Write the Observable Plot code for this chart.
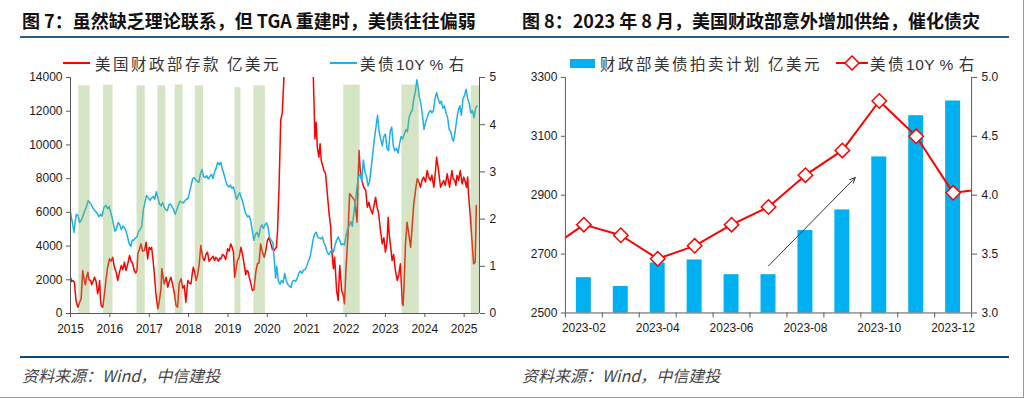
<!DOCTYPE html>
<html><head><meta charset="utf-8">
<script src="https://cdn.jsdelivr.net/npm/d3@7"></script>
<script src="https://cdn.jsdelivr.net/npm/@observablehq/plot@0.6"></script>
<style>
body{margin:0;background:#fff;}
#page{position:relative;width:1023px;height:397px;border-right:1px solid #9a9a9a;border-bottom:1px solid #9a9a9a;overflow:hidden;font-family:"Noto Sans CJK SC","Noto Sans",sans-serif;background:#fff;}
.title{position:absolute;top:9px;font-size:18px;font-weight:700;color:#111;white-space:nowrap;line-height:22px;}
.rule{position:absolute;left:20px;width:989px;height:2px;}
.leg{position:absolute;top:52px;font-size:15.5px;letter-spacing:2.5px;color:#333;white-space:nowrap;line-height:22px;}
.leg .lat{letter-spacing:0.5px;font-family:"Liberation Sans",Arial,sans-serif;}
.src{position:absolute;top:364px;font-size:16px;font-style:italic;color:#444;white-space:nowrap;line-height:22px;}
.chart{position:absolute;top:40px;}
.sw{position:absolute;}
</style></head>
<body><div id="page">
<div class="title" style="left:22px">图 7：虽然缺乏理论联系，但 TGA 重建时，美债往往偏弱</div>
<div class="title" style="left:522px">图 8：2023 年 8 月，美国财政部意外增加供给，催化债灾</div>
<div class="rule" style="top:36px;background:#2e5c8a"></div>
<div class="sw" style="left:63px;top:62px;width:27px;height:2px;background:#ff0000"></div>
<div class="leg" style="left:95px">美国财政部存款 亿美元</div>
<div class="sw" style="left:330px;top:62px;width:27px;height:2px;background:#1cb0ea"></div>
<div class="leg" style="left:360px">美债<span class="lat">10Y % </span>右</div>
<div class="sw" style="left:570px;top:59px;width:25px;height:9px;background:#00b0f0"></div>
<div class="leg" style="left:600px">财政部美债拍卖计划 亿美元</div>
<svg class="sw" style="left:836px;top:55px" width="32" height="16"><line x1="0" y1="8" x2="32" y2="8" stroke="#ff0000" stroke-width="2"/><polygon points="16,1 23,8 16,15 9,8" fill="#fff" stroke="#ff0000" stroke-width="1.5"/></svg>
<div class="leg" style="left:870px">美债<span class="lat">10Y % </span>右</div>
<div id="left" class="chart" style="left:0px"></div>
<div id="right" class="chart" style="left:512px"></div>
<div class="rule" style="top:356px;background:#0d4a7a"></div>
<div class="src" style="left:22px">资料来源：Wind，中信建投</div>
<div class="src" style="left:522px">资料来源：Wind，中信建投</div>
</div>
<script>
// ---------- Figure 7 data ----------
const yearTicks = [2015,2016,2017,2018,2019,2020,2021,2022,2023,2024,2025];
const leftTicks = [0,2000,4000,6000,8000,10000,12000,14000];
const rightTicks = [0,1,2,3,4,5];
const xEnd = 2025.39;

const tgaT = [2015.00,2015.03,2015.06,2015.10,2015.14,2015.17,2015.19,2015.23,2015.27,2015.31,2015.35,2015.38,2015.40,2015.44,2015.47,2015.51,2015.54,2015.57,2015.61,2015.65,2015.69,2015.72,2015.74,2015.76,2015.78,2015.82,2015.86,2015.90,2015.94,2015.99,
2016.03,2016.07,2016.11,2016.16,2016.20,2016.24,2016.29,2016.33,2016.37,2016.41,2016.45,2016.50,2016.54,2016.58,2016.62,2016.66,2016.69,2016.71,2016.75,2016.79,2016.83,2016.88,2016.92,2016.96,
2017.00,2017.03,2017.06,2017.10,2017.13,2017.17,2017.20,2017.22,2017.26,2017.30,2017.32,2017.35,2017.38,2017.43,2017.47,2017.51,2017.55,2017.59,2017.64,2017.68,2017.72,2017.76,2017.81,2017.85,2017.89,2017.93,2017.98,
2018.02,2018.06,2018.09,2018.12,2018.16,2018.19,2018.23,2018.27,2018.31,2018.36,2018.40,2018.44,2018.48,2018.52,2018.57,2018.62,2018.66,2018.69,2018.73,2018.76,2018.80,2018.82,2018.86,2018.90,2018.94,2018.99,
2019.03,2019.07,2019.11,2019.14,2019.17,2019.21,2019.24,2019.28,2019.33,2019.37,2019.41,2019.45,2019.48,2019.51,2019.54,2019.58,2019.62,2019.66,2019.68,2019.71,2019.75,2019.79,2019.83,2019.88,2019.92,2019.96,
2020.00,2020.04,2020.09,2020.13,2020.17,2020.23,2020.26,2020.30,2020.34,2020.38,2020.42,2020.47,2020.55,2020.70,2020.90,
2021.05,2021.16,2021.17,2021.21,2021.24,2021.27,2021.31,2021.34,2021.37,2021.44,2021.48,2021.51,2021.54,2021.57,2021.61,2021.63,2021.68,2021.71,2021.76,2021.80,2021.84,2021.89,2021.93,2021.96,
2022.00,2022.05,2022.09,2022.16,2022.22,2022.28,2022.30,2022.33,2022.36,2022.40,2022.45,2022.50,2022.54,2022.58,2022.62,2022.67,2022.71,2022.75,2022.79,2022.83,2022.87,2022.92,2022.96,
2023.00,2023.04,2023.07,2023.10,2023.14,2023.17,2023.21,2023.25,2023.30,2023.34,2023.38,2023.41,2023.43,2023.45,2023.48,2023.51,2023.55,2023.60,2023.64,2023.68,2023.72,2023.77,2023.81,2023.85,2023.89,2023.93,2023.97,
2024.02,2024.06,2024.10,2024.14,2024.18,2024.23,2024.27,2024.30,2024.35,2024.40,2024.44,2024.48,2024.52,2024.57,2024.60,2024.63,2024.66,2024.69,2024.72,2024.76,2024.79,2024.82,2024.86,2024.90,2024.95,2024.99,
2025.03,2025.06,2025.09,2025.11,2025.16,2025.21,2025.24,2025.28,2025.31];
const tgaV = [2150,1900,1960,1850,770,500,375,650,870,2550,1960,1700,2100,2450,2000,1960,1700,1900,2150,1900,1170,1500,1960,900,475,375,1100,1960,2700,3240,
3100,3340,2800,2450,1960,2400,2850,2600,3040,2550,2900,3440,3100,2950,2550,2400,2550,3540,3800,4130,3700,3740,4230,3240,
3930,3800,3930,3100,2350,1170,600,280,800,1500,2650,2200,1760,2150,1560,1900,2150,1760,1200,475,375,1760,2060,1500,1660,670,1960,
1800,1760,2300,2750,2400,1960,2300,2950,4030,3300,3140,3500,3640,3100,3240,3400,3150,3340,3250,3100,3300,3240,3500,3440,3200,3840,
3700,4130,3900,3640,2150,2700,3140,3300,3930,3500,2950,2300,2550,2500,2150,1800,1370,1400,1860,2500,2950,3000,4130,3600,3340,3700,
4330,4500,4130,3800,3740,3930,4920,7690,11450,11900,13920,16500,18000,17500,17000,
16500,15000,13900,10360,11350,9870,9270,10070,9080,8480,8290,7490,6700,5910,5120,3930,2650,3340,1370,770,2850,1370,1070,575,
2750,4730,7100,6900,6700,5420,7500,9670,8500,7900,7490,7300,6300,6600,6200,5910,6400,6900,6300,5910,5000,4130,4500,
3640,4200,5710,4600,3800,3140,3500,2600,1960,2300,2950,1500,575,475,2000,4130,5420,4600,3930,5200,6500,7400,8000,7800,7490,7900,8090,
7800,8480,8100,7890,8200,7490,8400,9270,8480,7490,7700,7890,7600,8290,7900,7490,8000,8480,8000,7890,7600,8190,7900,8480,7690,8090,
7800,7490,8100,7100,5710,3930,2950,3040,6400];

const ytmT = [2015.00,2015.03,2015.06,2015.09,2015.12,2015.15,2015.19,2015.23,2015.27,2015.31,2015.35,2015.40,2015.45,2015.48,2015.52,2015.56,2015.60,2015.64,2015.68,2015.72,2015.76,2015.80,2015.85,2015.90,2015.94,2015.98,
2016.02,2016.06,2016.10,2016.13,2016.17,2016.21,2016.25,2016.29,2016.33,2016.37,2016.41,2016.45,2016.49,2016.53,2016.57,2016.61,2016.65,2016.69,2016.73,2016.77,2016.81,2016.85,2016.89,2016.93,2016.97,
2017.02,2017.06,2017.10,2017.14,2017.18,2017.22,2017.26,2017.30,2017.34,2017.38,2017.42,2017.46,2017.50,2017.54,2017.58,2017.62,2017.66,2017.70,2017.74,2017.78,2017.82,2017.86,2017.90,2017.94,2017.98,
2018.02,2018.06,2018.10,2018.14,2018.18,2018.22,2018.26,2018.30,2018.34,2018.38,2018.42,2018.46,2018.50,2018.54,2018.58,2018.62,2018.66,2018.70,2018.74,2018.78,2018.82,2018.86,2018.90,2018.94,2018.98,
2019.02,2019.06,2019.10,2019.14,2019.18,2019.22,2019.26,2019.30,2019.34,2019.38,2019.42,2019.46,2019.50,2019.54,2019.58,2019.62,2019.66,2019.70,2019.74,2019.78,2019.82,2019.86,2019.90,2019.94,2019.98,
2020.02,2020.06,2020.10,2020.14,2020.18,2020.21,2020.24,2020.28,2020.32,2020.36,2020.40,2020.44,2020.48,2020.52,2020.56,2020.60,2020.64,2020.68,2020.72,2020.76,2020.80,2020.84,2020.88,2020.92,2020.96,
2021.00,2021.04,2021.08,2021.12,2021.16,2021.20,2021.24,2021.28,2021.32,2021.36,2021.40,2021.44,2021.48,2021.52,2021.56,2021.60,2021.64,2021.68,2021.72,2021.76,2021.80,2021.84,2021.88,2021.92,2021.96,
2022.00,2022.04,2022.08,2022.12,2022.16,2022.20,2022.24,2022.28,2022.32,2022.36,2022.40,2022.44,2022.48,2022.52,2022.56,2022.60,2022.64,2022.68,2022.72,2022.76,2022.80,2022.84,2022.88,2022.92,2022.96,
2023.00,2023.04,2023.08,2023.12,2023.16,2023.20,2023.24,2023.28,2023.32,2023.36,2023.40,2023.44,2023.48,2023.52,2023.56,2023.60,2023.64,2023.68,2023.72,2023.76,2023.80,2023.83,2023.86,2023.90,2023.94,2023.98,
2024.02,2024.06,2024.10,2024.14,2024.18,2024.22,2024.26,2024.30,2024.34,2024.38,2024.42,2024.46,2024.50,2024.54,2024.58,2024.62,2024.66,2024.70,2024.73,2024.77,2024.81,2024.85,2024.89,2024.93,2024.97,
2025.01,2025.05,2025.09,2025.13,2025.17,2025.21,2025.25,2025.29,2025.33];
const ytmV = [2.15,2.00,1.86,1.72,1.95,2.10,2.08,1.93,1.97,2.05,2.15,2.25,2.39,2.36,2.32,2.25,2.20,2.16,2.12,2.05,2.10,2.06,2.25,2.29,2.22,2.27,
2.15,2.02,1.85,1.74,1.80,1.93,1.88,1.78,1.85,1.82,1.75,1.62,1.48,1.42,1.56,1.55,1.60,1.62,1.74,1.78,1.85,2.20,2.35,2.50,2.46,
2.40,2.45,2.48,2.42,2.58,2.45,2.32,2.28,2.35,2.25,2.20,2.18,2.30,2.32,2.26,2.20,2.10,2.20,2.30,2.38,2.36,2.34,2.38,2.42,2.43,
2.55,2.70,2.85,2.88,2.84,2.80,2.78,2.96,3.05,2.90,2.88,2.92,2.85,2.90,2.95,2.86,3.00,3.08,3.20,3.15,3.20,3.05,2.95,2.82,2.72,
2.68,2.72,2.65,2.68,2.55,2.42,2.50,2.56,2.45,2.35,2.20,2.10,2.05,2.07,1.95,1.75,1.55,1.68,1.72,1.62,1.80,1.88,1.80,1.88,1.92,
1.82,1.60,1.55,1.50,1.10,0.75,1.00,0.68,0.62,0.70,0.65,0.85,0.70,0.62,0.58,0.55,0.68,0.70,0.68,0.75,0.85,0.90,0.85,0.92,0.93,
1.00,1.10,1.18,1.35,1.55,1.68,1.72,1.62,1.60,1.58,1.62,1.50,1.42,1.30,1.25,1.30,1.35,1.30,1.45,1.55,1.62,1.55,1.45,1.48,1.45,
1.65,1.80,1.85,1.95,1.85,2.15,2.40,2.70,2.90,2.95,2.80,3.25,3.00,2.90,2.70,2.80,3.10,3.40,3.70,3.95,4.20,3.85,3.70,3.55,3.75,
3.80,3.50,3.45,3.85,3.95,3.55,3.45,3.50,3.40,3.60,3.75,3.70,3.80,3.90,3.85,4.15,4.25,4.30,4.55,4.70,4.95,4.80,4.60,4.45,4.20,3.90,
4.05,4.15,4.25,4.30,4.25,4.30,4.55,4.68,4.55,4.45,4.50,4.35,4.40,4.25,4.15,3.90,3.85,3.70,3.65,3.85,4.10,4.30,4.40,4.20,4.55,
4.62,4.75,4.55,4.45,4.25,4.30,4.15,4.35,4.40];

const bandStart = [2015.21,2015.84,2016.69,2017.22,2017.66,2018.17,2019.18,2019.66,2021.94,2023.42,2025.18];
const bandEnd   = [2015.50,2016.08,2016.90,2017.42,2017.86,2018.38,2019.33,2019.95,2022.36,2023.86,2025.39];
const bandTop   = [13500,13550,13500,13500,13550,13500,13400,13500,13550,13550,13500];

// ---------- Figure 8 data ----------
const auctionMonths = ["2023-02","2023-03","2023-04","2023-05","2023-06","2023-07","2023-08","2023-09","2023-10","2023-11","2023-12"];
const auctionValues = [2620,2590,2670,2680,2630,2630,2780,2850,3030,3170,3220];
const yieldMonths = ["2023-01","2023-02","2023-03","2023-04","2023-05","2023-06","2023-07","2023-08","2023-09","2023-10","2023-11","2023-12","2024-01"];
const yieldValues = [3.53,3.75,3.66,3.46,3.57,3.75,3.90,4.17,4.38,4.80,4.50,4.02,4.06];
const labelMonths = ["2023-02","2023-04","2023-06","2023-08","2023-10","2023-12"];
const auctionTicks = [2500,2700,2900,3100,3300];
const yieldTicks = [3.0,3.5,4.0,4.5,5.0];
// trend arrow annotation: [month, value on left axis]
const arrowFrom = ["2023-07", 2660];
const arrowTo = ["2023-09", 2960];
const arrowToOffset = 0.35; // fraction of a month past arrowTo month

// ---------- colours ----------
const RED = "#ff0000", BLUE = "#1cb0ea", BAR = "#00b0f0", GREEN = "#87b256", AXIS = "#595959";
const tickStyle = {fontFamily: "'Liberation Sans', Arial, sans-serif", fontSize: "12px", color: "#1a1a1a", background: "transparent", overflow: "visible"};

// ---------- left chart ----------
const ratioL = 14000 / 5;
const tga = tgaT.map((t, i) => ({t, v: tgaV[i]}));
const ytm = ytmT.map((t, i) => ({t, v: ytmV[i]}));
const bands = bandStart.map((s, i) => ({s, e: bandEnd[i], top: bandTop[i]}));

const left = Plot.plot({
  width: 512, height: 310,
  marginTop: 37, marginBottom: 37, marginLeft: 70, marginRight: 33,
  style: tickStyle,
  x: {domain: [2015, xEnd]},
  y: {domain: [0, 14000]},
  marks: [
    Plot.line(tga, {x: "t", y: "v", stroke: RED, strokeWidth: 1.5, clip: true}),
    Plot.line(ytm, {x: "t", y: d => d.v * ratioL, stroke: BLUE, strokeWidth: 1.5}),
    Plot.rect(bands, {x1: "s", x2: "e", y1: 0, y2: "top", fill: GREEN, fillOpacity: 0.35}),
    Plot.ruleY([0], {stroke: AXIS}),
    Plot.ruleX([2015, xEnd], {stroke: AXIS}),
    Plot.axisY({ticks: leftTicks, tickSize: 4, tickPadding: 4, tickFormat: d => String(d), label: null, stroke: AXIS}),
    Plot.axisY({anchor: "right", ticks: rightTicks.map(v => v * ratioL), tickSize: 5, tickPadding: 5, tickFormat: d => String(Math.round(d / ratioL)), label: null, stroke: AXIS}),
    Plot.axisX({ticks: yearTicks, tickSize: 4, tickPadding: 7, tickFormat: d => String(d), label: null, stroke: AXIS})
  ]
});
document.getElementById("left").appendChild(left);

// ---------- right chart ----------
const idx = m => yieldMonths.indexOf(m);
const toLeft = v => 2500 + (v - 3) * 400;
const bars = auctionMonths.map((m, i) => ({i: idx(m), v: auctionValues[i]}));
const yl = yieldMonths.map((m, i) => ({i, v: yieldValues[i], m}));
const ylVisible = yl.filter(d => auctionMonths.includes(d.m));
const xMin = idx(auctionMonths[0]) - 0.5, xMax = idx(auctionMonths[auctionMonths.length - 1]) + 0.5;
const boundaries = d3.range(xMin, xMax + 0.01, 1);
const arrows = [{x1: idx(arrowFrom[0]), y1: arrowFrom[1], x2: idx(arrowTo[0]) + arrowToOffset, y2: arrowTo[1]}];

const right = Plot.plot({
  width: 512, height: 310,
  marginTop: 37, marginBottom: 37, marginLeft: 53, marginRight: 52,
  style: tickStyle,
  x: {domain: [xMin, xMax]},
  y: {domain: [2500, 3300]},
  marks: [
    Plot.rect(bars, {x1: d => d.i - 0.5, x2: d => d.i + 0.5, y1: 2500, y2: "v", insetLeft: 11, insetRight: 11, fill: BAR}),
    Plot.line(yl, {x: "i", y: d => toLeft(d.v), stroke: RED, strokeWidth: 2, clip: true}),
    Plot.dot(ylVisible, {x: "i", y: d => toLeft(d.v), symbol: "diamond2", r: 6.5, fill: "white", stroke: RED, strokeWidth: 1.5}),
    Plot.arrow(arrows, {x1: "x1", y1: "y1", x2: "x2", y2: "y2", stroke: "#333", strokeWidth: 1, headLength: 9, headAngle: 50}),
    Plot.ruleY([2500], {stroke: AXIS}),
    Plot.ruleX([xMin, xMax], {stroke: AXIS}),
    Plot.axisY({ticks: auctionTicks, tickSize: 4, tickPadding: 4, tickFormat: d => String(d), label: null, stroke: AXIS}),
    Plot.axisY({anchor: "right", ticks: yieldTicks.map(toLeft), tickSize: 5, tickPadding: 5, tickFormat: d => ((d - 2500) / 400 + 3).toFixed(1), label: null, stroke: AXIS}),
    Plot.axisX({ticks: boundaries, tickSize: 5, fill: "none", label: null, stroke: AXIS}),
    Plot.axisX({ticks: labelMonths.map(idx), tickSize: 0, tickPadding: 11, tickFormat: i => yieldMonths[i], label: null})
  ]
});
document.getElementById("right").appendChild(right);
</script>
</body></html>
